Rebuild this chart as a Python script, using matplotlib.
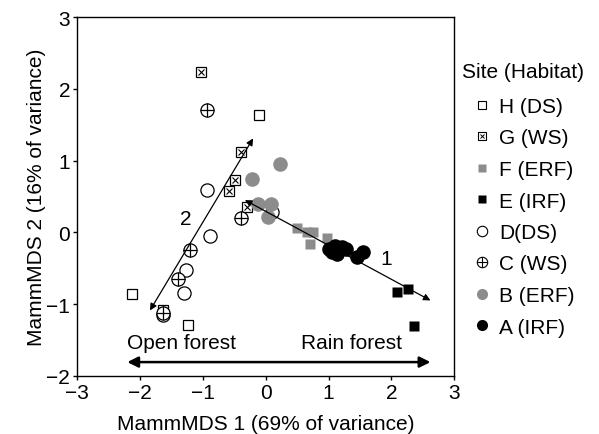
import matplotlib.pyplot as plt
from matplotlib.lines import Line2D
from matplotlib.legend_handler import HandlerTuple

plt.rcParams['font.family'] = ['Liberation Sans', 'DejaVu Sans']

# Site scores on the two MDS axes
h_x = [-0.11, -2.12, -1.23]
h_y = [1.64, -0.86, -1.29]
g_x = [-1.03, -0.39, -0.49, -0.58, -0.30, -1.63]
g_y = [2.24, 1.12, 0.73, 0.57, 0.35, -1.08]
f_x = [0.50, 0.65, 0.75, 0.70, 0.98]
f_y = [0.06, 0.00, 0.00, -0.16, -0.08]
e_x = [2.09, 2.27, 2.36]
e_y = [-0.83, -0.79, -1.31]
d_x = [-0.94, -0.89, -1.26, -1.30, -1.63, 0.10]
d_y = [0.59, -0.05, -0.53, -0.85, -1.15, 0.28]
c_x = [-0.94, -0.39, -1.21, -1.39, -1.63]
c_y = [1.71, 0.20, -0.24, -0.65, -1.12]
b_x = [0.23, -0.22, -0.12, 0.08, 0.03]
b_y = [0.95, 0.75, 0.39, 0.39, 0.22]
a_x = [1.00, 1.11, 1.22, 1.14, 1.06, 1.27, 1.54, 1.46]
a_y = [-0.23, -0.19, -0.21, -0.30, -0.28, -0.23, -0.27, -0.35]

# gradient arrows (start, end)
arrow1 = [(-0.33, 0.45), (2.62, -0.95)]
arrow2 = [(-1.84, -1.09), (-0.20, 1.31)]
axis_arrow = [(-2.20, -1.81), (2.62, -1.81)]

grey = '#8c8c8c'
fs = 15

fig = plt.figure(figsize=(5.99, 4.35), dpi=100)
ax = fig.add_axes([0.1285, 0.134, 0.63, 0.824])

ms_sq = 7
ms_ci = 9.5

ax.plot(h_x, h_y, 's', ms=ms_sq, mfc='white', mec='black', mew=0.9, ls='none')
ax.plot(g_x, g_y, 's', ms=ms_sq, mfc='white', mec='black', mew=0.9, ls='none')
ax.plot(g_x, g_y, 'x', ms=4.5, mec='black', mew=0.8, ls='none')
ax.plot(f_x, f_y, 's', ms=ms_sq, mfc=grey, mec='none', ls='none')
ax.plot(e_x, e_y, 's', ms=ms_sq, mfc='black', mec='none', ls='none')
ax.plot(d_x, d_y, 'o', ms=ms_ci, mfc='white', mec='black', mew=0.9, ls='none')
ax.plot(c_x, c_y, 'o', ms=ms_ci, mfc='white', mec='black', mew=0.9, ls='none')
ax.plot(c_x, c_y, '+', ms=ms_ci, mec='black', mew=0.9, ls='none')
ax.plot(b_x, b_y, 'o', ms=ms_ci + 1, mfc=grey, mec='none', ls='none')
ax.plot(a_x, a_y, 'o', ms=ms_ci + 1, mfc='black', mec='none', ls='none')

for (x0, y0), (x1, y1) in [arrow1, arrow2]:
    ax.annotate('', xy=(x1, y1), xytext=(x0, y0),
                arrowprops=dict(arrowstyle='<|-|>', color='black', lw=0.9,
                                mutation_scale=10, shrinkA=0, shrinkB=0))
(x0, y0), (x1, y1) = axis_arrow
ax.annotate('', xy=(x1, y1), xytext=(x0, y0),
            arrowprops=dict(arrowstyle='<|-|>', color='black', lw=1.8,
                            mutation_scale=16, shrinkA=0, shrinkB=0))

ax.text(-1.27, 0.19, '2', fontsize=fs, ha='center', va='center')
ax.text(1.91, -0.37, '1', fontsize=fs, ha='center', va='center')
ax.text(-2.2, -1.53, 'Open forest', fontsize=fs, ha='left', va='center')
ax.text(2.16, -1.53, 'Rain forest', fontsize=fs, ha='right', va='center')

ax.set_xlim(-3, 3)
ax.set_ylim(-2, 3)
ax.set_xticks([-3, -2, -1, 0, 1, 2, 3])
ax.set_yticks([-2, -1, 0, 1, 2, 3])
ax.set_xticklabels(['\u22123', '\u22122', '\u22121', '0', '1', '2', '3'])
ax.set_yticklabels(['\u22122', '\u22121', '0', '1', '2', '3'])
ax.tick_params(direction='out', length=3, width=1, labelsize=fs, pad=2)
ax.set_xlabel('MammMDS 1 (69% of variance)', fontsize=fs, labelpad=9)
ax.set_ylabel('MammMDS 2 (16% of variance)', fontsize=fs, labelpad=0)
for s in ax.spines.values():
    s.set_linewidth(1)

# legend handles
hh = Line2D([], [], marker='s', ms=5.5, mfc='white', mec='black', mew=0.8, ls='none')
gg = (Line2D([], [], marker='s', ms=5.5, mfc='white', mec='black', mew=0.8, ls='none'),
      Line2D([], [], marker='x', ms=3.5, mec='black', mew=0.7, ls='none'))
ff = Line2D([], [], marker='s', ms=5.5, mfc=grey, mec='none', ls='none')
ee = Line2D([], [], marker='s', ms=5.5, mfc='black', mec='none', ls='none')
dd = Line2D([], [], marker='o', ms=7.5, mfc='white', mec='black', mew=0.8, ls='none')
cc = (Line2D([], [], marker='o', ms=7.5, mfc='white', mec='black', mew=0.8, ls='none'),
      Line2D([], [], marker='+', ms=7.5, mec='black', mew=0.8, ls='none'))
bb = Line2D([], [], marker='o', ms=8, mfc=grey, mec='none', ls='none')
aa = Line2D([], [], marker='o', ms=8, mfc='black', mec='none', ls='none')

labels = ['H (DS)', 'G (WS)', 'F (ERF)', 'E (IRF)', 'D(DS)', 'C (WS)', 'B (ERF)', 'A (IRF)']
fig.text(462 / 599, 1 - 73 / 435, 'Site (Habitat)', fontsize=fs, ha='left', va='center')
leg = fig.legend([hh, gg, ff, ee, dd, cc, bb, aa], labels,
                 handler_map={tuple: HandlerTuple(ndivide=1, pad=0)},
                 fontsize=fs, frameon=False, loc='upper left',
                 bbox_to_anchor=(474 / 599, 1 - 98 / 435),
                 handlelength=0.8, handletextpad=0.4, labelspacing=0.6,
                 borderaxespad=0, borderpad=0)

fig.savefig('out.png', dpi=100)
